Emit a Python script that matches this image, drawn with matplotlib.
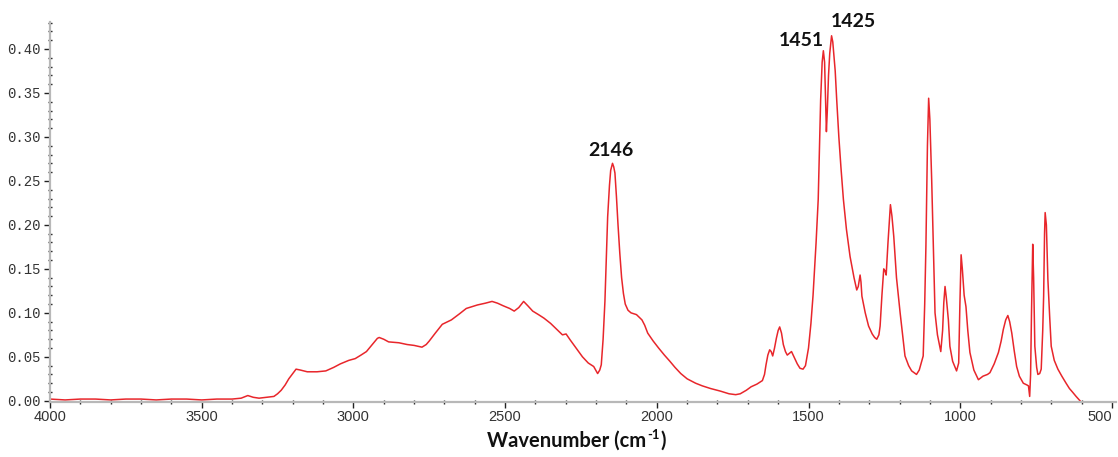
import matplotlib
matplotlib.use("Agg")
import matplotlib.pyplot as plt
from matplotlib.ticker import MultipleLocator, FormatStrFormatter

# Wavenumber (cm-1) and absorbance
wavenumber = [
    4000, 3950, 3900, 3850, 3800, 3750, 3700, 3650, 3600, 3550, 3500, 3450, 3400,
    3370, 3348, 3330, 3311, 3285, 3262, 3250, 3238, 3225, 3213, 3200, 3189, 3175,
    3152, 3120, 3091, 3065, 3043, 3015, 2994, 2975, 2957, 2940, 2921, 2915, 2900,
    2884, 2850, 2823, 2800, 2774, 2760, 2750, 2730, 2707, 2677, 2650, 2628, 2591,
    2565, 2543, 2525, 2506, 2485, 2470, 2455, 2439, 2425, 2409, 2390, 2372, 2350,
    2335, 2311, 2299, 2285, 2262, 2245, 2226, 2208, 2195, 2188, 2183, 2177, 2171,
    2166, 2162, 2156, 2152, 2146, 2142, 2138, 2133, 2128, 2122, 2116, 2110, 2104,
    2095, 2085, 2067, 2049, 2040, 2030, 2012, 1994, 1975, 1957, 1940, 1921, 1900,
    1872, 1850, 1823, 1790, 1762, 1740, 1725, 1705, 1689, 1670, 1652, 1645, 1640,
    1634, 1628, 1623, 1618, 1612, 1606, 1600, 1595, 1589, 1583, 1576, 1570, 1563,
    1556, 1548, 1537, 1528, 1518, 1510, 1500, 1492, 1485, 1475, 1468, 1460, 1455,
    1451, 1447, 1443, 1441, 1438, 1434, 1430, 1424, 1420, 1418, 1412, 1407, 1400,
    1393, 1385, 1375, 1363, 1350, 1341, 1336, 1330, 1327, 1324, 1313, 1302, 1290,
    1282, 1275, 1268, 1264, 1258, 1252, 1248, 1244, 1238, 1230, 1225, 1219, 1210,
    1198, 1190, 1182, 1170, 1160, 1144, 1135, 1122, 1117, 1113, 1108, 1104, 1100,
    1094, 1088, 1083, 1075, 1064, 1058, 1054, 1050, 1046, 1039, 1034, 1025, 1012,
    1005, 1001, 997, 993, 987, 981, 975, 968, 955, 940, 925, 910, 902, 888, 874,
    865, 858, 850, 843, 837, 830, 822, 814, 805, 792, 780, 775, 771, 768, 765, 761,
    758, 754, 748, 744, 738, 733, 728, 725, 722, 720, 716, 711, 705, 700, 690, 678,
    665, 651, 640, 630, 618, 610, 605,
]
absorbance = [
    0.002, 0.001, 0.002, 0.002, 0.001, 0.002, 0.002, 0.001, 0.002, 0.002, 0.001, 0.002, 0.002,
    0.003, 0.006, 0.004, 0.003, 0.004, 0.005, 0.008, 0.012, 0.018, 0.025, 0.031, 0.036, 0.035,
    0.033, 0.033, 0.034, 0.038, 0.042, 0.046, 0.048, 0.052, 0.056, 0.063, 0.071, 0.072, 0.070,
    0.067, 0.066, 0.064, 0.063, 0.061, 0.064, 0.068, 0.077, 0.087, 0.092, 0.099, 0.105, 0.109,
    0.111, 0.113, 0.111, 0.108, 0.105, 0.102, 0.106, 0.113, 0.108, 0.102, 0.098, 0.094, 0.088,
    0.083, 0.075, 0.076, 0.069, 0.058, 0.050, 0.043, 0.039, 0.031, 0.035, 0.041, 0.070, 0.113,
    0.165, 0.209, 0.245, 0.262, 0.270, 0.266, 0.259, 0.232, 0.201, 0.168, 0.140, 0.122, 0.110,
    0.103, 0.100, 0.098, 0.092, 0.086, 0.077, 0.068, 0.060, 0.052, 0.045, 0.038, 0.031, 0.025,
    0.020, 0.017, 0.014, 0.011, 0.008, 0.007, 0.008, 0.012, 0.016, 0.019, 0.023, 0.030, 0.041,
    0.052, 0.058, 0.056, 0.051, 0.060, 0.071, 0.080, 0.084, 0.077, 0.064, 0.056, 0.052, 0.054,
    0.056, 0.050, 0.042, 0.037, 0.036, 0.040, 0.060, 0.088, 0.120, 0.180, 0.229, 0.342, 0.385,
    0.398, 0.385, 0.330, 0.306, 0.330, 0.370, 0.395, 0.415, 0.408, 0.400, 0.375, 0.342, 0.300,
    0.265, 0.229, 0.195, 0.164, 0.140, 0.126, 0.130, 0.143, 0.135, 0.119, 0.100, 0.085, 0.076,
    0.072, 0.070, 0.075, 0.085, 0.120, 0.150, 0.148, 0.143, 0.180, 0.223, 0.210, 0.187, 0.140,
    0.100, 0.075, 0.051, 0.040, 0.034, 0.030, 0.035, 0.051, 0.110, 0.176, 0.290, 0.344, 0.320,
    0.251, 0.170, 0.100, 0.075, 0.056, 0.080, 0.112, 0.130, 0.118, 0.092, 0.062, 0.045, 0.034,
    0.043, 0.110, 0.166, 0.150, 0.120, 0.107, 0.080, 0.055, 0.035, 0.024, 0.028, 0.030, 0.032, 0.042, 0.055,
    0.068, 0.081, 0.092, 0.097, 0.090, 0.077, 0.057, 0.039, 0.028, 0.020, 0.018, 0.017, 0.005, 0.030, 0.100, 0.178,
    0.140, 0.062, 0.038, 0.030, 0.031, 0.036, 0.080, 0.119, 0.190, 0.214, 0.200, 0.138, 0.095, 0.062, 0.046, 0.036,
    0.028, 0.020, 0.014, 0.010, 0.005, 0.002, 0.000,
]

peak_labels = ["2146", "1451", "1425"]
peak_label_x = [2152, 1525, 1352]
peak_label_y = [0.285, 0.410, 0.431]

fig = plt.figure(figsize=(11.18, 4.57), dpi=100)
ax = fig.add_axes([50 / 1118, 1 - 401.7 / 457, 1066 / 1118, 380 / 457])

ax.plot(wavenumber, absorbance, color="#e8262b", lw=1.1)

ax.set_xlim(4000, 486.5)
ax.set_ylim(-0.001, 0.431)

ax.xaxis.set_major_locator(MultipleLocator(500))
ax.xaxis.set_minor_locator(MultipleLocator(100))
ax.yaxis.set_major_locator(MultipleLocator(0.05))
ax.yaxis.set_minor_locator(MultipleLocator(0.01))
ax.yaxis.set_major_formatter(FormatStrFormatter("%.2f"))

for s in ["top", "right"]:
    ax.spines[s].set_visible(False)
for s in ["left", "bottom"]:
    ax.spines[s].set_color("#b8b8b8")
    ax.spines[s].set_linewidth(1.6)

ax.tick_params(axis="both", which="major", direction="out", length=4, width=1,
               color="#222222", labelcolor="#333333")
ax.tick_params(axis="both", which="minor", direction="inout", length=3, width=1,
               color="#222222")
ax.tick_params(axis="y", which="major", pad=3)
ax.tick_params(axis="x", which="major", pad=2)

for lab in ax.get_yticklabels():
    lab.set_fontfamily("Liberation Mono")
    lab.set_fontsize(10)
for lab in ax.get_xticklabels():
    lab.set_fontfamily("Liberation Sans")
    lab.set_fontsize(10.5)

fig.canvas.draw()
for lab in ax.get_xticklabels():
    if lab.get_text() == "500":
        lab.set_horizontalalignment("right")

# x-axis label: main text, small bold superscript, closing parenthesis
renderer = fig.canvas.get_renderer()
lab_style = dict(fontfamily="Lato", fontweight="bold", color="#111111")
y_main = 1 - 441 / 457
t1 = fig.text(487 / 1118, y_main, "Wavenumber (cm", ha="left", va="center",
              fontsize=14.5, **lab_style)
bb1 = t1.get_window_extent(renderer)
x_sup = (bb1.x1 + 1) / fig.bbox.width
t2 = fig.text(x_sup, 1 - 435 / 457, "-1", ha="left", va="center",
              fontsize=9.5, **lab_style)
bb2 = t2.get_window_extent(renderer)
x_par = (bb2.x1 + 1) / fig.bbox.width
fig.text(x_par, y_main, ")", ha="left", va="center", fontsize=14.5, **lab_style)

for t, xv, yv in zip(peak_labels, peak_label_x, peak_label_y):
    ax.text(xv, yv, t, ha="center", va="center", fontfamily="Lato",
            fontweight="bold", fontsize=14, color="#111111")

fig.savefig("out.png", dpi=100)
